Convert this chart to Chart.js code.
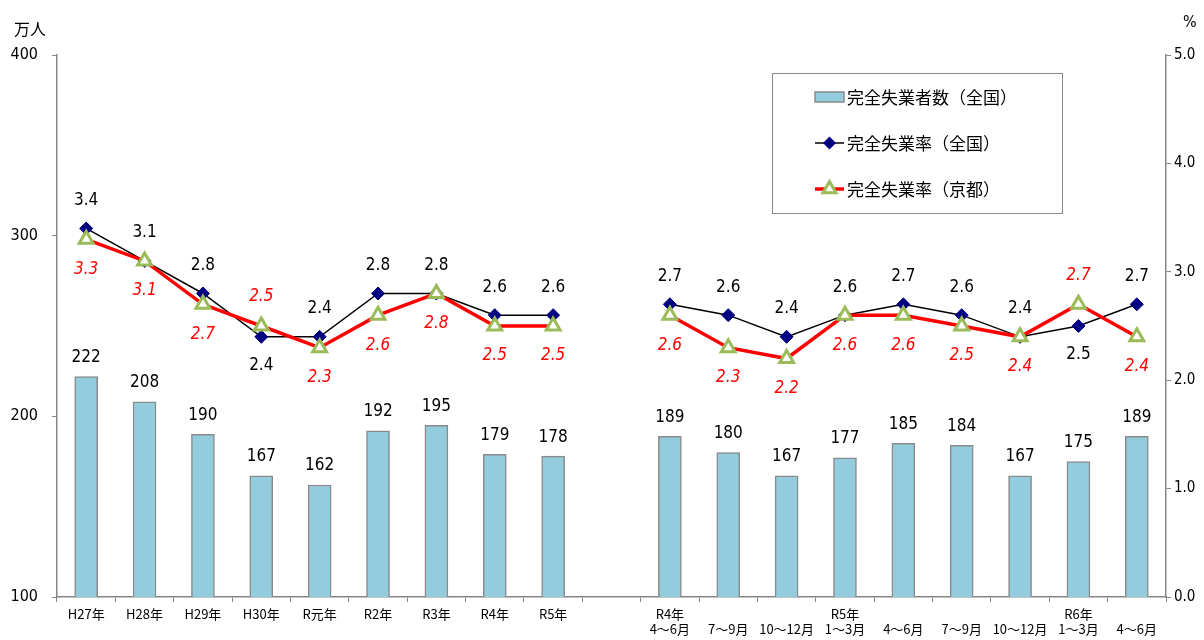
<!DOCTYPE html>
<html>
<head>
<meta charset="utf-8">
<script src="https://cdn.jsdelivr.net/npm/chart.js@4"></script>
<style>
  body { margin: 0; background: #fff; }
  #wrap { width: 1204px; height: 640px; position: relative; }
</style>
</head>
<body>
<div id="wrap"><canvas id="myChart" width="1204" height="640"></canvas></div>
<script>
const categories = [
    ['H27年'], ['H28年'], ['H29年'], ['H30年'], ['R元年'], ['R2年'], ['R3年'], ['R4年'], ['R5年'],
    [''],
    ['R4年', '4～6月'], ['', '7～9月'], ['', '10～12月'], ['R5年', '1～3月'], ['', '4～6月'],
    ['', '7～9月'], ['', '10～12月'], ['R6年', '1～3月'], ['', '4～6月']
];
const unemployedNational = [222, 208, 190, 167, 162, 192, 195, 179, 178, null, 189, 180, 167, 177, 185, 184, 167, 175, 189];
const rateNational = [3.4, 3.1, 2.8, 2.4, 2.4, 2.8, 2.8, 2.6, 2.6, null, 2.7, 2.6, 2.4, 2.6, 2.7, 2.6, 2.4, 2.5, 2.7];
const rateKyoto = [3.3, 3.1, 2.7, 2.5, 2.3, 2.6, 2.8, 2.5, 2.5, null, 2.6, 2.3, 2.2, 2.6, 2.6, 2.5, 2.4, 2.7, 2.4];
const leftTicks = [100, 200, 300, 400];
const rightTicks = [0, 1, 2, 3, 4, 5];
const seriesNames = ['完全失業者数（全国）', '完全失業率（全国）', '完全失業率（京都）'];

// which side of the point each rate label sits on
const nationalLabelSide = ['up', 'up', 'up', 'down', 'up', 'up', 'up', 'up', 'up', null, 'up', 'up', 'up', 'up', 'up', 'up', 'up', 'down', 'up'];
const kyotoLabelSide = ['down', 'down', 'down', 'up', 'down', 'down', 'down', 'down', 'down', null, 'down', 'down', 'down', 'down', 'down', 'down', 'down', 'up', 'down'];

const numFont = "'Liberation Sans Narrow', 'DejaVu Sans Condensed', 'Noto Sans CJK JP', sans-serif";
const jpFont = "'Liberation Sans Narrow', 'Noto Sans CJK JP', sans-serif";

const barFill = '#93cddd';
const barBorder = '#8a8a8a';
const axisColor = '#868686';

const labelPlugin = {
    id: 'valueLabels',
    afterDatasetsDraw(chart) {
        const ctx = chart.ctx;
        ctx.save();
        ctx.textAlign = 'center';
        ctx.textBaseline = 'middle';

        const bars = chart.getDatasetMeta(0).data;
        ctx.font = '17px ' + numFont;
        ctx.fillStyle = '#000';
        bars.forEach((el, i) => {
            if (unemployedNational[i] == null) return;
            ctx.fillText(String(unemployedNational[i]), el.x, el.y - 19);
        });

        const nat = chart.getDatasetMeta(1).data;
        nat.forEach((el, i) => {
            if (rateNational[i] == null) return;
            const dy = nationalLabelSide[i] === 'up' ? -28 : 29;
            ctx.fillText(rateNational[i].toFixed(1), el.x, el.y + dy);
        });

        const kyo = chart.getDatasetMeta(2).data;
        ctx.font = 'italic 17px ' + numFont;
        ctx.fillStyle = '#ff0000';
        kyo.forEach((el, i) => {
            if (rateKyoto[i] == null) return;
            const dy = kyotoLabelSide[i] === 'up' ? -29 : 30;
            ctx.fillText(rateKyoto[i].toFixed(1), el.x, el.y + dy);
        });

        // axis unit titles
        ctx.fillStyle = '#000';
        ctx.font = '16px ' + jpFont;
        ctx.textAlign = 'left';
        ctx.fillText('万人', 14, 29);
        ctx.font = '16px ' + numFont;
        ctx.fillText('%', 1183, 23);
        ctx.restore();
    }
};

const legendPlugin = {
    id: 'boxLegend',
    afterDraw(chart) {
        const ctx = chart.ctx;
        const x0 = 772, y0 = 73, w = 290, h = 140;
        ctx.save();
        ctx.fillStyle = '#fff';
        ctx.fillRect(x0, y0, w, h);
        ctx.strokeStyle = '#8a8a8a';
        ctx.lineWidth = 1;
        ctx.strokeRect(x0 + 0.5, y0 + 0.5, w, h);

        const symX = 815, symW = 29;
        const rows = [97, 143, 189];

        // bar symbol
        ctx.fillStyle = barFill;
        ctx.strokeStyle = barBorder;
        ctx.lineWidth = 1.5;
        ctx.fillRect(symX, rows[0] - 5, symW, 10);
        ctx.strokeRect(symX, rows[0] - 5, symW, 10);

        // national line symbol
        ctx.strokeStyle = '#000';
        ctx.lineWidth = 1.5;
        ctx.beginPath();
        ctx.moveTo(symX, rows[1]);
        ctx.lineTo(symX + symW, rows[1]);
        ctx.stroke();
        ctx.fillStyle = '#000080';
        ctx.beginPath();
        ctx.moveTo(symX + symW / 2, rows[1] - 6.5);
        ctx.lineTo(symX + symW / 2 + 6.5, rows[1]);
        ctx.lineTo(symX + symW / 2, rows[1] + 6.5);
        ctx.lineTo(symX + symW / 2 - 6.5, rows[1]);
        ctx.closePath();
        ctx.fill();

        // kyoto line symbol
        ctx.strokeStyle = '#ff0000';
        ctx.lineWidth = 3.5;
        ctx.beginPath();
        ctx.moveTo(symX, rows[2]);
        ctx.lineTo(symX + symW, rows[2]);
        ctx.stroke();
        ctx.fillStyle = '#fff';
        ctx.strokeStyle = '#9bbb59';
        ctx.lineWidth = 3;
        ctx.beginPath();
        const r = 7.5, cx = symX + symW / 2, cy = rows[2];
        for (let k = 0; k < 3; k++) {
            const a = k * 2 * Math.PI / 3;
            const px = cx + Math.sin(a) * r, py = cy - Math.cos(a) * r;
            if (k === 0) ctx.moveTo(px, py); else ctx.lineTo(px, py);
        }
        ctx.closePath();
        ctx.fill();
        ctx.stroke();

        ctx.fillStyle = '#000';
        ctx.font = '17px ' + jpFont;
        ctx.textAlign = 'left';
        ctx.textBaseline = 'middle';
        seriesNames.forEach((name, i) => ctx.fillText(name, 847, rows[i] + 1));
        ctx.restore();
    }
};

function initChart(target) {
    const data = {
        labels: categories,
        datasets: [{
            type: 'bar',
            label: seriesNames[0],
            data: unemployedNational,
            yAxisID: 'yLeft',
            backgroundColor: barFill,
            borderColor: barBorder,
            borderWidth: 1.5,
            barThickness: 23,
            order: 3
        }, {
            type: 'line',
            label: seriesNames[1],
            data: rateNational,
            yAxisID: 'yRight',
            borderColor: '#000',
            borderWidth: 1.5,
            pointStyle: 'rectRot',
            pointRadius: 6.5,
            pointBackgroundColor: '#000080',
            pointBorderColor: '#000080',
            pointBorderWidth: 1,
            spanGaps: false,
            order: 2
        }, {
            type: 'line',
            label: seriesNames[2],
            data: rateKyoto,
            yAxisID: 'yRight',
            borderColor: '#ff0000',
            borderWidth: 3.5,
            pointStyle: 'triangle',
            pointRadius: 8,
            pointBackgroundColor: '#fff',
            pointBorderColor: '#9bbb59',
            pointBorderWidth: 3,
            spanGaps: false,
            order: 1
        }]
    };

    const config = {
        data: data,
        options: {
            responsive: false,
            animation: false,
            layout: { padding: { top: 55, left: 0, right: 0, bottom: 0 } },
            plugins: {
                legend: { display: false },
                tooltip: { enabled: false }
            },
            scales: {
                x: {
                    offset: true,
                    grid: { offset: true, drawOnChartArea: false, drawTicks: true, tickLength: 5, color: axisColor },
                    border: { color: axisColor, width: 1.5 },
                    ticks: { color: '#000', font: { family: jpFont, size: 13 }, padding: 4, maxRotation: 0, autoSkip: false },
                    afterFit(scale) { scale.height = 43; }
                },
                yLeft: {
                    position: 'left',
                    min: 100,
                    max: 400,
                    afterBuildTicks(scale) { scale.ticks = leftTicks.map(v => ({ value: v })); },
                    grid: { drawOnChartArea: false, drawTicks: true, tickLength: 5, color: axisColor },
                    border: { color: axisColor, width: 1.5 },
                    ticks: { color: '#000', font: { family: numFont, size: 16 }, padding: 14 },
                    afterFit(scale) { scale.width = 57; }
                },
                yRight: {
                    position: 'right',
                    min: 0,
                    max: 5,
                    afterBuildTicks(scale) { scale.ticks = rightTicks.map(v => ({ value: v })); },
                    grid: { drawOnChartArea: false, drawTicks: true, tickLength: 5, color: axisColor },
                    border: { color: axisColor, width: 1.5 },
                    ticks: { color: '#000', font: { family: numFont, size: 15 }, padding: 3, callback: (v) => Number(v).toFixed(1) },
                    afterFit(scale) { scale.width = 38; }
                }
            }
        },
        plugins: [labelPlugin, legendPlugin]
    };

    return new Chart(target, config);
}

document.addEventListener('DOMContentLoaded', () => {
    initChart(document.querySelector('#myChart'));
});
</script>
</body>
</html>
